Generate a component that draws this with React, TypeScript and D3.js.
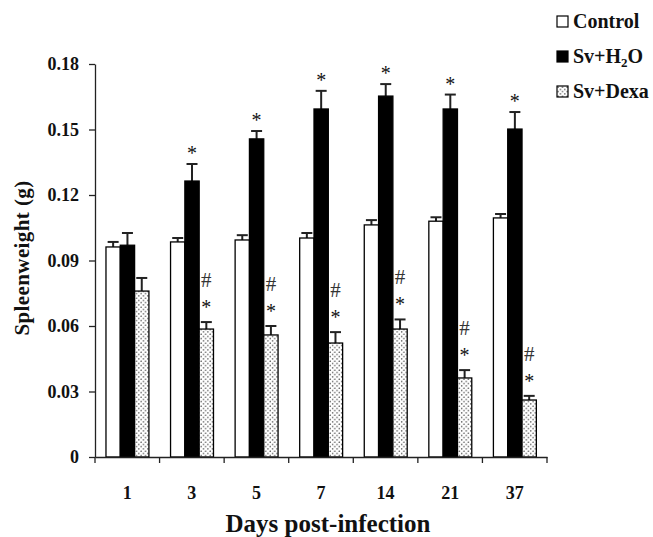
import React, { useEffect, useRef } from "react";
import * as d3 from "d3";

const days = ["1", "3", "5", "7", "14", "21", "37"];
const seriesNames = ["Control", "Sv+H2O", "Sv+Dexa"];
const controlMean = [0.0962, 0.0985, 0.0994, 0.1003, 0.1063, 0.108, 0.1095];
const controlErr = [0.0023, 0.0018, 0.0022, 0.0023, 0.0022, 0.0018, 0.0018];
const h2oMean = [0.097, 0.1264, 0.1457, 0.1594, 0.1653, 0.1594, 0.1502];
const h2oErr = [0.0056, 0.0078, 0.0036, 0.0083, 0.0055, 0.0066, 0.0078];
const dexaMean = [0.076, 0.0586, 0.0559, 0.0522, 0.0586, 0.0362, 0.0261];
const dexaErr = [0.006, 0.0032, 0.0041, 0.005, 0.0044, 0.0036, 0.0019];
// significance marks: star over Sv+H2O, "#" and "*" over Sv+Dexa
const h2oStar = [false, true, true, true, true, true, true];
const dexaMarks = [false, true, true, true, true, true, true];
const yTicks = [0, 0.03, 0.06, 0.09, 0.12, 0.15, 0.18];

const FONT = "'Liberation Serif', 'Times New Roman', serif";

const App = () => {
  const svgRef = useRef<SVGSVGElement>(null);

  useEffect(() => {
    const width = 653;
    const height = 537;
    const margin = { top: 64, left: 95, right: 106, bottom: 80 };

    const svg = d3.select(svgRef.current);
    svg.selectAll("*").remove();
    svg.attr("width", width).attr("height", height);

    const defs = svg.append("defs");
    const pat = defs.append("pattern")
      .attr("id", "dots")
      .attr("width", 4.5)
      .attr("height", 4.5)
      .attr("patternUnits", "userSpaceOnUse");
    pat.append("rect").attr("width", 4.5).attr("height", 4.5).attr("fill", "#fff");
    pat.append("circle").attr("cx", 1.1).attr("cy", 1.1).attr("r", 0.75).attr("fill", "#444");
    pat.append("circle").attr("cx", 3.35).attr("cy", 3.35).attr("r", 0.75).attr("fill", "#444");

    const x = d3.scaleBand()
      .domain(days)
      .range([margin.left, width - margin.right]);
    const bw = x.bandwidth();

    const xSub = d3.scaleBand()
      .domain(seriesNames)
      .range([bw * 0.17, bw * 0.835]);

    const y = d3.scaleLinear()
      .domain([0, 0.18])
      .range([height - margin.bottom, margin.top]);

    const rows = days.map((d, i) => ({
      day: d,
      vals: [
        { key: "Control", mean: controlMean[i], err: controlErr[i], fill: "#fff" },
        { key: "Sv+H2O", mean: h2oMean[i], err: h2oErr[i], fill: "#000" },
        { key: "Sv+Dexa", mean: dexaMean[i], err: dexaErr[i], fill: "url(#dots)" },
      ],
      star: h2oStar[i],
      dexa: dexaMarks[i],
    }));

    const groups = svg.selectAll(".grp")
      .data(rows)
      .join("g")
      .attr("class", "grp")
      .attr("transform", d => `translate(${x(d.day)},0)`);

    // error bars (upper only)
    groups.selectAll(".err")
      .data(d => d.vals)
      .join("g")
      .attr("class", "err")
      .each(function (v) {
        const g = d3.select(this);
        const cx = (xSub(v.key) as number) + xSub.bandwidth() / 2;
        g.append("line")
          .attr("x1", cx).attr("x2", cx)
          .attr("y1", y(v.mean)).attr("y2", y(v.mean + v.err))
          .attr("stroke", "#222").attr("stroke-width", 2);
        g.append("line")
          .attr("x1", cx - 5.5).attr("x2", cx + 5.5)
          .attr("y1", y(v.mean + v.err)).attr("y2", y(v.mean + v.err))
          .attr("stroke", "#222").attr("stroke-width", 2);
      });

    groups.selectAll(".bar")
      .data(d => d.vals)
      .join("rect")
      .attr("class", "bar")
      .attr("x", v => xSub(v.key) as number)
      .attr("y", v => y(v.mean))
      .attr("width", xSub.bandwidth())
      .attr("height", v => y(0) - y(v.mean))
      .attr("fill", v => v.fill)
      .attr("stroke", "#000")
      .attr("stroke-width", 1.3);

    // significance marks
    groups.filter(d => d.star)
      .append("text")
      .attr("x", (xSub("Sv+H2O") as number) + xSub.bandwidth() / 2)
      .attr("y", d => y(d.vals[1].mean + d.vals[1].err) - 4)
      .attr("text-anchor", "middle")
      .attr("font-family", FONT)
      .attr("font-size", 20)
      .attr("fill", "#111")
      .text("*");

    const dexaG = groups.filter(d => d.dexa);
    dexaG.append("text")
      .attr("x", (xSub("Sv+Dexa") as number) + xSub.bandwidth() / 2)
      .attr("y", d => y(d.vals[2].mean + d.vals[2].err) - 8)
      .attr("text-anchor", "middle")
      .attr("font-family", FONT)
      .attr("font-size", 20)
      .attr("fill", "#111")
      .text("*");
    dexaG.append("text")
      .attr("x", (xSub("Sv+Dexa") as number) + xSub.bandwidth() / 2)
      .attr("y", d => y(d.vals[2].mean + d.vals[2].err) - 35)
      .attr("text-anchor", "middle")
      .attr("font-family", FONT)
      .attr("font-size", 21)
      .attr("fill", "#333")
      .text("#");

    // y axis
    const yAxis = svg.append("g")
      .attr("transform", `translate(${margin.left},0)`)
      .call(
        d3.axisLeft(y)
          .tickValues(yTicks)
          .tickSize(6)
          .tickSizeOuter(0)
          .tickPadding(10)
          .tickFormat(d => (d === 0 ? "0" : (d as number).toFixed(2)))
      );
    yAxis.selectAll("text")
      .attr("font-family", FONT)
      .attr("font-size", 18)
      .attr("font-weight", "bold")
      .attr("fill", "#111");
    yAxis.selectAll("line, path").attr("stroke", "#222").attr("stroke-width", 1.3);

    // x axis: labels at band centers, ticks at band edges
    const xAxis = svg.append("g")
      .attr("transform", `translate(0,${y(0)})`)
      .call(d3.axisBottom(x).tickSize(0).tickSizeOuter(0).tickPadding(29));
    xAxis.select(".domain").attr("stroke", "#222").attr("stroke-width", 1.3);
    xAxis.selectAll("text")
      .attr("font-family", FONT)
      .attr("font-size", 18)
      .attr("font-weight", "bold")
      .attr("fill", "#111");
    const edges = days.map(d => x(d) as number).concat([width - margin.right]);
    xAxis.selectAll(".edge")
      .data(edges)
      .join("line")
      .attr("class", "edge")
      .attr("x1", d => d).attr("x2", d => d)
      .attr("y1", 0).attr("y2", 6)
      .attr("stroke", "#222").attr("stroke-width", 1.3);

    // axis titles
    svg.append("text")
      .attr("transform", `translate(29,258) rotate(-90)`)
      .attr("text-anchor", "middle")
      .attr("font-family", FONT)
      .attr("font-size", 21)
      .attr("font-weight", "bold")
      .attr("letter-spacing", 0.4)
      .attr("fill", "#111")
      .text("Spleenweight (g)");

    svg.append("text")
      .attr("x", 328)
      .attr("y", 532)
      .attr("text-anchor", "middle")
      .attr("font-family", FONT)
      .attr("font-size", 25)
      .attr("font-weight", "bold")
      .attr("fill", "#111")
      .text("Days post-infection");

    // legend
    const legend = svg.append("g").attr("transform", "translate(557,16)");
    const fills = ["#fff", "#000", "url(#dots)"];
    seriesNames.forEach((name, i) => {
      const row = legend.append("g").attr("transform", `translate(0,${i * 35})`);
      row.append("rect")
        .attr("width", 11).attr("height", 11)
        .attr("fill", fills[i])
        .attr("stroke", "#000").attr("stroke-width", 1.2);
      const t = row.append("text")
        .attr("x", 16).attr("y", 12)
        .attr("font-family", FONT)
        .attr("font-size", 20)
        .attr("font-weight", "bold")
        .attr("fill", "#111");
      if (name === "Sv+H2O") {
        t.append("tspan").text("Sv+H");
        t.append("tspan").attr("font-size", 13).attr("dy", 4).text("2");
        t.append("tspan").attr("dy", -4).text("O");
      } else {
        t.text(name);
      }
    });
  }, []);

  return (
    <svg
      ref={svgRef}
      style={{ position: "absolute", left: 0, top: 0, background: "#fff" }}
    />
  );
};

export default App;
